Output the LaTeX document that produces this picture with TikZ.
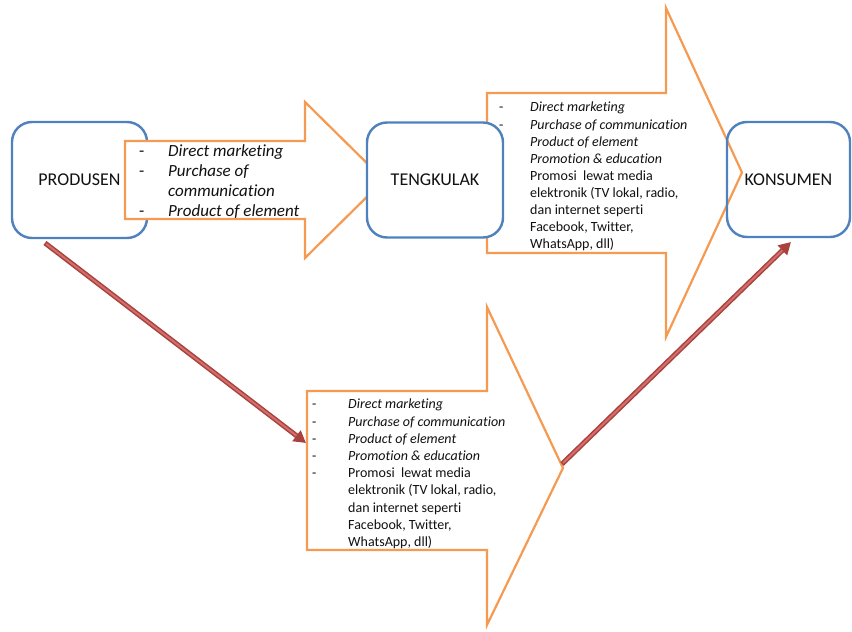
\documentclass[tikz,border=0pt]{standalone}
\usepackage{fontspec}
\setmainfont{Carlito}[Ligatures=NoCommon]
\usetikzlibrary{arrows.meta}
\definecolor{boxblue}{HTML}{4F81BD}
\definecolor{arrorange}{HTML}{F59A50}
\definecolor{reddark}{HTML}{A8423F}
\definecolor{redlight}{HTML}{D36E6A}
\definecolor{textgray}{HTML}{111111}
\begin{document}
\begin{tikzpicture}[x=1pt,y=-1pt,
  actor/.style={draw=boxblue, line width=2.4pt, rounded corners=20pt, inner sep=0pt,
    font=\fontsize{18}{21}\selectfont, text=textgray},
  blockarrow/.style={draw=arrorange, line width=2.2pt, fill=white, line join=miter},
  listtext/.style={anchor=north west, inner sep=0pt, align=left, text=textgray},
  redout/.style={draw=reddark, line width=5pt, -{Triangle[length=12pt,width=13pt]}},
  redin/.style={draw=redlight, line width=2pt, shorten >=12pt, shorten <=1.5pt}]
\useasboundingbox (0,0) rectangle (852,632);

% producer box (under arrow 1)
\node[actor, fill=white, minimum width=135pt, minimum height=116pt] (prod) at (79.5,180) {PRODUSEN};

% block arrows
\draw[blockarrow] (125,141) -- (305,141) -- (305,102) -- (384,180) -- (305,258) -- (305,219) -- (125,219) -- cycle;
\draw[blockarrow] (487,93) -- (666,93) -- (666,8) -- (742,172.5) -- (666,337) -- (666,253) -- (487,253) -- cycle;
\draw[blockarrow] (307,391) -- (487,391) -- (487,307) -- (563,468) -- (487,625) -- (487,550) -- (307,550) -- cycle;

% other boxes
\node[actor, fill=white, minimum width=136pt, minimum height=115pt] (teng) at (435,180) {TENGKULAK};
\node[actor, minimum width=123pt, minimum height=115pt] (kons) at (788.5,179.5) {KONSUMEN};

% texts inside arrows
\node[listtext, font=\fontsize{17}{20.3}\selectfont] (t1) at (139,144) {%
\makebox[29pt][l]{-}\textit{Direct marketing}\\
\makebox[29pt][l]{-}\textit{Purchase of}\\
\hspace*{29pt}\textit{communication}\\
\makebox[29pt][l]{-}\textit{Product of element}};

\node[listtext, font=\fontsize{14}{17.1}\selectfont] (t2) at (499,102) {%
\makebox[31pt][l]{-}\textit{Direct marketing}\\
\makebox[31pt][l]{-}\textit{Purchase of communication}\\
\hspace*{31pt}\textit{Product of element}\\
\hspace*{31pt}\textit{Promotion \& education}\\
\hspace*{31pt}Promosi\ \ lewat media\\
\hspace*{31pt}elektronik (TV lokal, radio,\\
\hspace*{31pt}dan internet seperti\\
\hspace*{31pt}Facebook, Twitter,\\
\hspace*{31pt}WhatsApp, dll)};

\node[listtext, font=\fontsize{14}{17.2}\selectfont] (t3) at (312,399) {%
\makebox[36pt][l]{-}\textit{Direct marketing}\\
\makebox[36pt][l]{-}\textit{Purchase of communication}\\
\makebox[36pt][l]{-}\textit{Product of element}\\
\makebox[36pt][l]{-}\textit{Promotion \& education}\\
\makebox[36pt][l]{-}Promosi\ \ lewat media\\
\hspace*{36pt}elektronik (TV lokal, radio,\\
\hspace*{36pt}dan internet seperti\\
\hspace*{36pt}Facebook, Twitter,\\
\hspace*{36pt}WhatsApp, dll)};

% red connectors
\coordinate (r1s) at (45,243);
\coordinate (r1e) at (306,443);
\coordinate (r2s) at (562,464);
\coordinate (r2e) at (791,242);
\draw[redout] (r1s) -- (r1e);
\draw[redin] (r1s) -- (r1e);
\draw[redout] (r2s) -- (r2e);
\draw[redin] (r2s) -- (r2e);
\end{tikzpicture}
\end{document}
